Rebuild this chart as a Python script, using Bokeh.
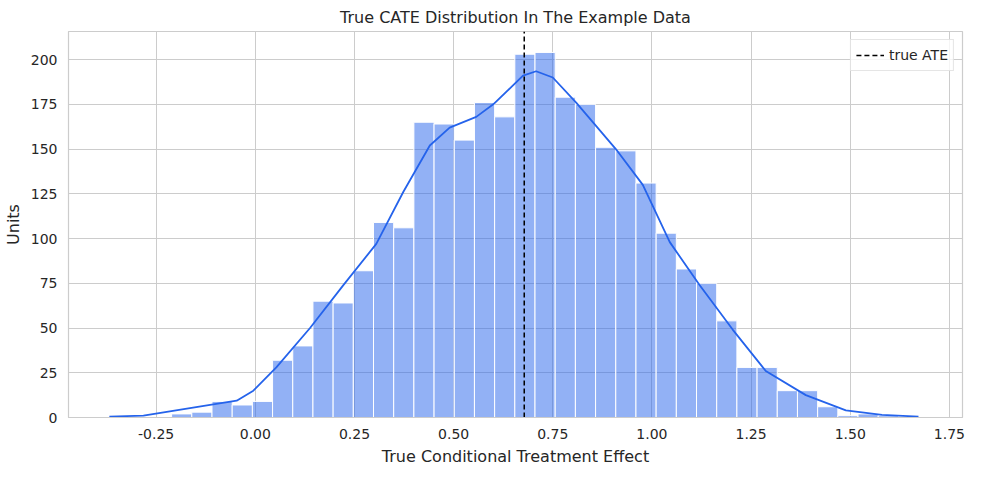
from bokeh.plotting import figure
from bokeh.models import Range1d, Span, Legend, LegendItem, FixedTicker
from bokeh.embed import file_html
from bokeh.resources import INLINE

bin_start = -0.211
bin_width = 0.0509
counts = [2, 3, 9, 7, 9, 32, 40, 65, 64, 82, 109, 106, 165, 164, 155, 176, 168, 203, 204,
          179, 175, 151, 149, 131, 103, 83, 75, 54, 28, 28, 15, 15, 6, 1, 2, 1]
kde_x = [-0.368, -0.282, -0.114, -0.047, -0.005, 0.053, 0.138, 0.222, 0.305, 0.373, 0.44, 0.49,
         0.557, 0.6, 0.675, 0.708, 0.75, 0.809, 0.909, 0.977, 1.045, 1.12, 1.204, 1.287, 1.388,
         1.489, 1.58, 1.672]
kde_y = [0.5, 1, 7, 9.4, 15, 28, 50, 74, 97, 126, 152, 162, 168, 175, 191, 193.5, 190, 176, 150,
         130, 98, 74, 49, 26, 12.5, 4, 1.5, 0.5]
ate = 0.678
x_ticks = [-0.25, 0.0, 0.25, 0.5, 0.75, 1.0, 1.25, 1.5, 1.75]
y_ticks = [0, 25, 50, 75, 100, 125, 150, 175, 200]

lefts = [bin_start + i * bin_width for i in range(len(counts))]
rights = [l + bin_width for l in lefts]

p = figure(width=966, height=468, output_backend="svg", toolbar_location=None,
           x_range=Range1d(-0.471, 1.783), y_range=Range1d(0, 215.7),
           title="True CATE Distribution In The Example Data",
           min_border_left=10, min_border_right=4, min_border_top=8, min_border_bottom=10)
p.title.align = "center"
p.title.text_font = "DejaVu Sans"
p.title.text_font_size = "12pt"
p.title.text_font_style = "normal"
p.title.text_color = "#262626"

p.quad(left=lefts, right=rights, bottom=0, top=counts, fill_color="#2563EB", fill_alpha=0.5,
       line_color="white", line_width=1)
p.line(kde_x, kde_y, line_color="#2563EB", line_width=1.8)
ate_line = p.line([ate, ate], [0, 215.7], line_color="black", line_dash="5 3", line_width=1.5)

leg = Legend(items=[LegendItem(label="true ATE", renderers=[ate_line])], location="top_right")
leg.label_text_font = "DejaVu Sans"
leg.label_text_font_size = "10.5pt"
leg.label_text_color = "#262626"
leg.border_line_color = "#cccccc"
leg.background_fill_alpha = 0.8
leg.glyph_width = 28
leg.padding = 5
leg.margin = 8
p.add_layout(leg)

for ax in (p.xaxis[0], p.yaxis[0]):
    ax.major_label_text_font = "DejaVu Sans"
    ax.major_label_text_font_size = "10.5pt"
    ax.major_label_text_color = "#262626"
    ax.axis_label_text_font = "DejaVu Sans"
    ax.axis_label_text_font_size = "12pt"
    ax.axis_label_text_font_style = "normal"
    ax.axis_label_text_color = "#262626"
    ax.axis_line_color = "#cccccc"
    ax.major_tick_line_color = None
    ax.minor_tick_line_color = None
p.xaxis.ticker = FixedTicker(ticks=x_ticks)
p.yaxis.ticker = FixedTicker(ticks=y_ticks)
p.xaxis.major_label_overrides = {t: f"{t:.2f}" for t in x_ticks}
p.xaxis.axis_label = "True Conditional Treatment Effect"
p.yaxis.axis_label = "Units"
p.xgrid.grid_line_color = "#cccccc"
p.ygrid.grid_line_color = "#cccccc"
p.outline_line_color = "#cccccc"
p.outline_line_width = 1.2

open("out.html", "w").write(file_html(p, INLINE))
